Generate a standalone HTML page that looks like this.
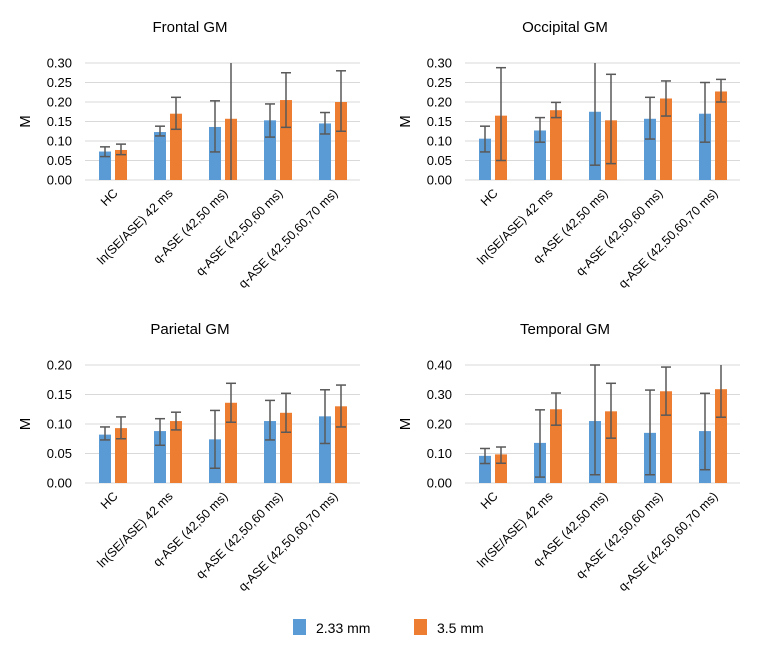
<!DOCTYPE html>
<html><head><meta charset="utf-8"><style>
body{margin:0;background:#fff;}
svg{display:block;font-family:"Liberation Sans",sans-serif;}
</style></head><body>
<svg id="chart" width="768" height="660" viewBox="0 0 768 660"></svg>
<script>
const categories = ["HC","ln(SE/ASE) 42 ms","q-ASE (42,50 ms)","q-ASE (42,50,60 ms)","q-ASE (42,50,60,70 ms)"];
const titles = ["Frontal GM","Occipital GM","Parietal GM","Temporal GM"];
const maxVals = [0.30,0.30,0.20,0.40];
const tickSteps = [0.05,0.05,0.05,0.10];
const blueVals = [[0.073,0.123,0.136,0.153,0.145],[0.106,0.127,0.175,0.157,0.170],[0.082,0.088,0.074,0.105,0.113],[0.092,0.136,0.210,0.170,0.176]];
const blueLo = [[0.060,0.113,0.072,0.110,0.118],[0.072,0.097,0.038,0.105,0.097],[0.073,0.064,0.025,0.073,0.067],[0.066,0.020,0.028,0.028,0.045]];
const blueHi = [[0.085,0.138,0.203,0.195,0.173],[0.138,0.160,0.40,0.212,0.250],[0.095,0.109,0.123,0.140,0.158],[0.117,0.248,0.40,0.315,0.304]];
const orangeVals = [[0.077,0.170,0.157,0.205,0.200],[0.165,0.179,0.153,0.209,0.227],[0.093,0.105,0.136,0.119,0.130],[0.097,0.250,0.243,0.311,0.318]];
const orangeLo = [[0.065,0.130,0.0,0.135,0.125],[0.050,0.160,0.042,0.164,0.200],[0.075,0.090,0.103,0.086,0.095],[0.067,0.196,0.152,0.230,0.223]];
const orangeHi = [[0.092,0.212,0.40,0.275,0.280],[0.288,0.199,0.271,0.254,0.258],[0.112,0.120,0.169,0.152,0.166],[0.122,0.305,0.338,0.393,0.50]];

const svg = document.getElementById('chart');
const NS = 'http://www.w3.org/2000/svg';
function mk(tag, attrs, parent){const e=document.createElementNS(NS,tag);for(const k in attrs)e.setAttribute(k,attrs[k]);(parent||svg).appendChild(e);return e;}
const panels = [{x0:85,x1:360,yT:63,yB:180,tx:190,ty:32},{x0:465,x1:740,yT:63,yB:180,tx:565,ty:32},
                {x0:85,x1:360,yT:365,yB:483,tx:190,ty:334},{x0:465,x1:740,yT:365,yB:483,tx:565,ty:334}];
panels.forEach((p,pi)=>{
  const g = mk('g',{});
  
  
  const yS = v => p.yB - Math.min(v,maxVals[pi])/maxVals[pi]*(p.yB-p.yT);
  const cw = (p.x1-p.x0)/categories.length;
  const t = mk('text',{x:p.tx,y:p.ty,'text-anchor':'middle','font-size':15,fill:'#000'},g);
  t.textContent = titles[pi];
  
  
  const nT = Math.round(maxVals[pi]/tickSteps[pi]);
  for(let i=0;i<=nT;i++){
    const v=i*tickSteps[pi], y=yS(v);
    const l = mk('line',{x1:p.x0,x2:p.x1,y1:y,y2:y,stroke:'#d9d9d9','stroke-width':1},g);
    
    
    const tl = mk('text',{x:p.x0-13,y:y+4.5,'text-anchor':'end','font-size':13,fill:'#000'},g);
    tl.textContent = v.toFixed(2);
    
    
  }
  const yt = mk('text',{x:0,y:0,'text-anchor':'middle','font-size':15,fill:'#000',transform:`translate(${p.x0-55},${(p.yT+p.yB)/2}) rotate(-90)`},g);
  yt.textContent='M';
  
  
  categories.forEach((c,ci)=>{
    const cx = p.x0 + cw*(ci+0.5);
    [[blueVals,blueLo,blueHi,'#5b9bd5',-7.5],[orangeVals,orangeLo,orangeHi,'#ed7d31',8.5]].forEach(([V,L,H,col,off],si)=>{
      const v=V[pi][ci], bx=cx+off;
      const r = mk('rect',{x:bx-6,y:yS(v),width:12,height:p.yB-yS(v),fill:col},g);
      
      
      const lo=yS(L[pi][ci]), hiV=H[pi][ci], hi=yS(hiV);
      const e = mk('g',{stroke:'#595959','stroke-width':1.5},g);
      
      
      mk('line',{x1:bx,x2:bx,y1:lo,y2:hi},e);
      if(L[pi][ci]>0) mk('line',{x1:bx-5,x2:bx+5,y1:lo,y2:lo},e);
      if(hiV<=maxVals[pi]) mk('line',{x1:bx-5,x2:bx+5,y1:hi,y2:hi},e);
    });
    const xl = mk('text',{x:0,y:0,'text-anchor':'end','font-size':12.5,fill:'#000',transform:`translate(${cx+6},${p.yB+14}) rotate(-45)`},g);
    xl.textContent=c;
    
    
  });
});
const leg = mk('g',{});


[['#5b9bd5',293,'2.33 mm'],['#ed7d31',414,'3.5 mm']].forEach(([c,x,lab])=>{
  const s = mk('rect',{x:x,y:619,width:13,height:16,fill:c},leg);
  
  
  const t = mk('text',{x:x+23,y:633,'font-size':14,fill:'#000'},leg);
  t.textContent=lab;
  
  
});
</script>
</body></html>
